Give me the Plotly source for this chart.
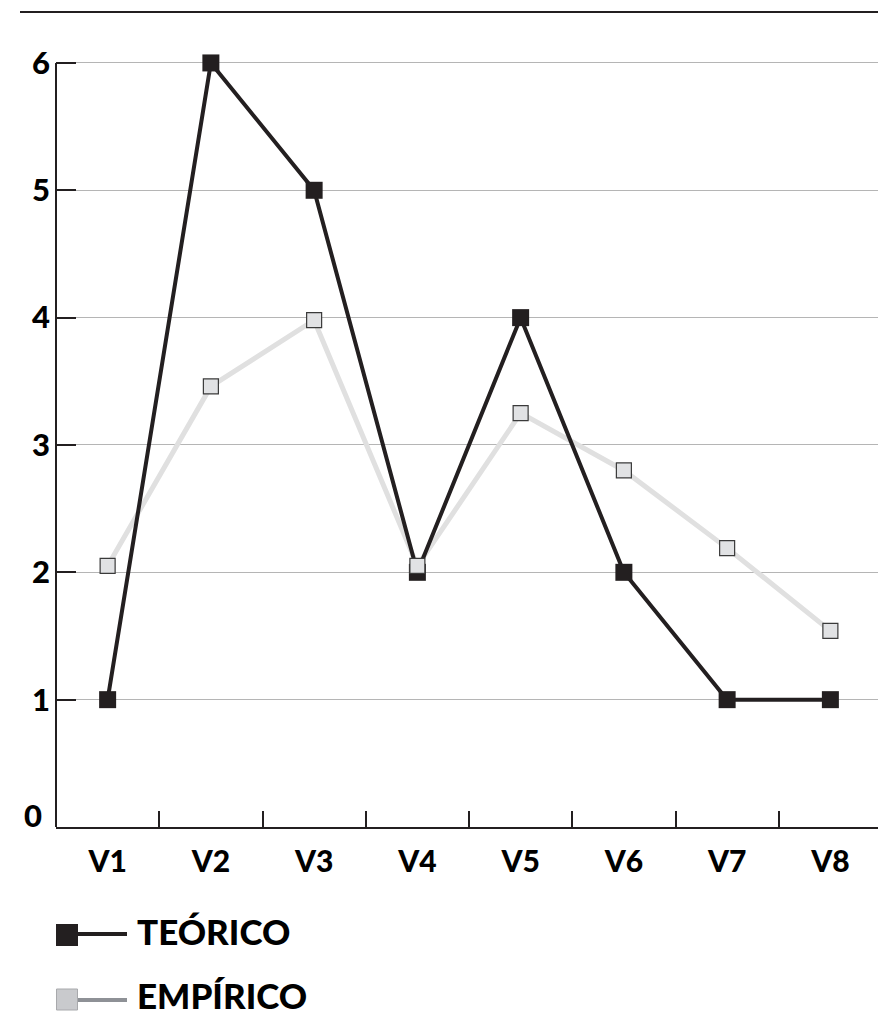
import plotly.graph_objects as go

categories = ["V1", "V2", "V3", "V4", "V5", "V6", "V7", "V8"]
teorico = [1, 6, 5, 2, 4, 2, 1, 1]
empirico = [2.05, 3.46, 3.98, 2.05, 3.25, 2.80, 2.19, 1.54]
y_ticks = [1, 2, 3, 4, 5, 6]
legend_labels = ["TEÓRICO", "EMPÍRICO"]

DARK = "#231f20"
FONT = "Lato"
WEIGHT = 900

OFF = 8  # page body margin
W, H = 878, 1005
L, T = 56 - OFF, 12 - OFF
PR, PB = 882 - OFF, 827 - OFF
R, B = W - PR, H - PB
PW, PH = PR - L, PB - T


def px(x):
    return (x - OFF - L) / PW


def py(y):
    return (PB - (y - OFF)) / PH


fig = go.Figure()
fig.add_trace(go.Scatter(x=categories, y=empirico, mode="lines",
                         line=dict(color="#e0e0e0", width=5), showlegend=False,
                         hoverinfo="skip"))
fig.add_trace(go.Scatter(x=categories, y=teorico, mode="lines+markers",
                         line=dict(color=DARK, width=4),
                         marker=dict(symbol="square", size=17, color=DARK),
                         showlegend=False, cliponaxis=False))
fig.add_trace(go.Scatter(x=categories, y=empirico, mode="markers",
                         marker=dict(symbol="square", size=15, color="#e1e2e4",
                                     line=dict(color="#3a3a3a", width=1.2)),
                         showlegend=False, cliponaxis=False))

shapes = [
    dict(type="line", xref="paper", yref="paper", x0=px(20), x1=px(900),
         y0=py(12), y1=py(12), line=dict(color=DARK, width=2)),
    # y axis line, stopping at top tick
    dict(type="line", xref="paper", yref="y", x0=0, x1=0,
         y0=0, y1=max(y_ticks), line=dict(color=DARK, width=2)),
    # legend TEÓRICO
    dict(type="line", xref="paper", yref="paper", x0=px(76), x1=px(127),
         y0=py(934), y1=py(934), line=dict(color=DARK, width=4)),
    dict(type="rect", xref="paper", yref="paper", x0=px(56), x1=px(78),
         y0=py(946), y1=py(924), fillcolor=DARK, line=dict(width=0)),
    # legend EMPÍRICO
    dict(type="line", xref="paper", yref="paper", x0=px(76), x1=px(127),
         y0=py(1000), y1=py(1000), line=dict(color="#8e9196", width=4)),
    dict(type="rect", xref="paper", yref="paper", x0=px(56.5), x1=px(77.5),
         y0=py(1010), y1=py(989), fillcolor="#c9cacd",
         line=dict(color="#a8a9ac", width=1)),
]

annotations = [
    dict(text=legend_labels[0], xref="paper", yref="paper", x=px(135), y=py(931),
         xanchor="left", yanchor="middle", showarrow=False,
         font=dict(family=FONT, size=35, color="#000000", weight=WEIGHT)),
    dict(text=legend_labels[1], xref="paper", yref="paper", x=px(135), y=py(995),
         xanchor="left", yanchor="middle", showarrow=False,
         font=dict(family=FONT, size=35, color="#000000", weight=WEIGHT)),
    dict(text="0", xref="paper", yref="y", x=px(44), y=0, yshift=12,
         xanchor="right", yanchor="middle", showarrow=False,
         font=dict(family=FONT, size=31, color="#000000", weight=WEIGHT)),
]

fig.update_layout(
    width=W, height=H,
    margin=dict(l=L, r=R, t=T, b=B, pad=0),
    paper_bgcolor="white", plot_bgcolor="white",
    shapes=shapes, annotations=annotations,
    showlegend=False,
    xaxis=dict(type="category", range=[-0.5, 7.5], tickson="boundaries",
               ticks="inside", ticklen=16, tickwidth=2, tickcolor=DARK,
               showline=True, linecolor=DARK, linewidth=2, showgrid=False,
               ticklabelstandoff=7,
               tickfont=dict(family=FONT, size=30, color="#000000", weight=WEIGHT)),
    yaxis=dict(range=[0, 6.4], tickvals=y_ticks, ticks="inside", ticklen=20,
               tickwidth=2, tickcolor=DARK, showline=False,
               showgrid=True, gridcolor="#b5b5b5", gridwidth=1,
               zeroline=False, ticklabelstandoff=5,
               tickfont=dict(family=FONT, size=31, color="#000000", weight=WEIGHT)),
)

fig.write_html("out.html")
